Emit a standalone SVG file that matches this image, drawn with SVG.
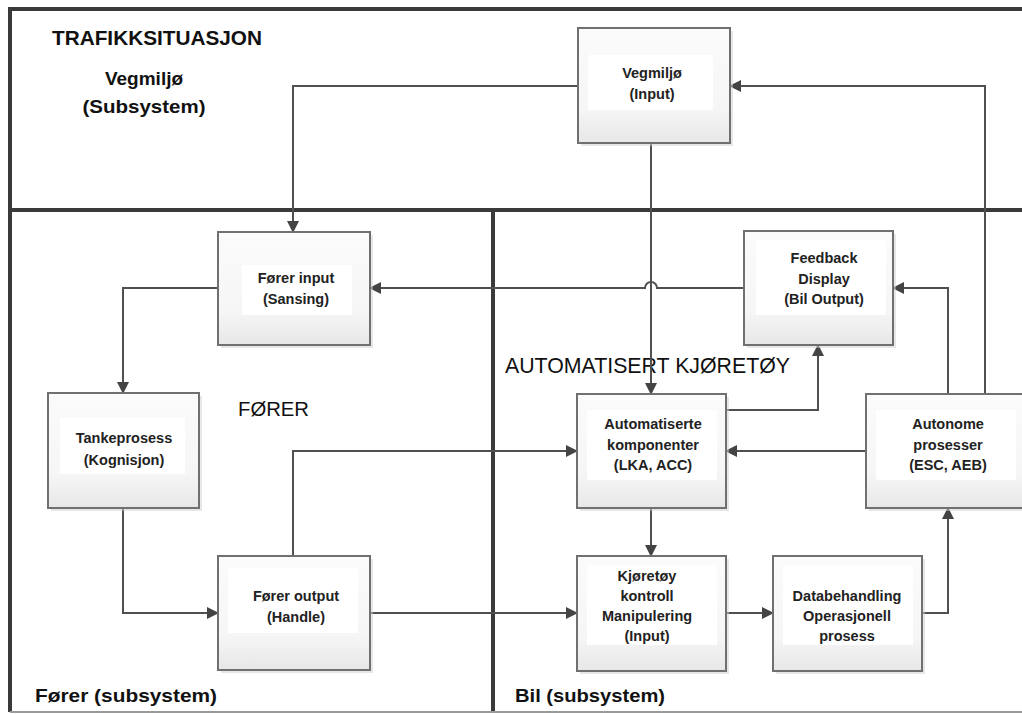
<svg xmlns="http://www.w3.org/2000/svg" width="1022" height="714" viewBox="0 0 1022 714">
<style>
.frame{stroke:#3a3a3a;stroke-width:4;fill:none}
.frame-light{stroke:#9a9a9a;stroke-width:2;fill:none}
.box{fill:url(#boxgrad);stroke:#707070;stroke-width:2}
.shadow{fill:#cfcfcf;opacity:0.5}
.inner{fill:#ffffff}
.conn{stroke:#505050;stroke-width:2;fill:none}
.arr{marker-end:url(#arrow)}
.nt{font-family:"Liberation Sans",Arial,sans-serif;font-weight:bold;font-size:14.5px;fill:#222;text-anchor:middle}
.big{font-family:"Liberation Sans",Arial,sans-serif;fill:#111}
</style>
<defs>
<linearGradient id="boxgrad" x1="0" y1="0" x2="0" y2="1">
<stop offset="0" stop-color="#fbfbfb"/>
<stop offset="0.7" stop-color="#f6f6f6"/>
<stop offset="1" stop-color="#e7e7e7"/>
</linearGradient>
<marker id="arrow" markerUnits="userSpaceOnUse" markerWidth="12" markerHeight="12" refX="11" refY="6" orient="auto">
<path d="M0,0 L12,6 L0,12 z" fill="#444"/>
</marker>
</defs>
<rect width="1022" height="714" fill="#ffffff"/>

<g id="frames">
<path class="frame" d="M10,712 V9 H1022"/>
<path class="frame" d="M10,210 H1022"/>
<path class="frame" d="M493,210 V712"/>
<path class="frame-light" d="M10,712 H1022"/>
</g>

<g id="labels">
<text class="big" x="52" y="45" font-size="21" font-weight="bold" textLength="210" lengthAdjust="spacingAndGlyphs">TRAFIKKSITUASJON</text>
<text class="big" x="144" y="85" font-size="19" font-weight="bold" text-anchor="middle">Vegmiljø</text>
<text class="big" x="144" y="113" font-size="19" font-weight="bold" text-anchor="middle" textLength="123" lengthAdjust="spacingAndGlyphs">(Subsystem)</text>
<text class="big" x="238" y="416" font-size="21" textLength="71" lengthAdjust="spacingAndGlyphs">FØRER</text>
<text class="big" x="505" y="373" font-size="22" textLength="285" lengthAdjust="spacingAndGlyphs">AUTOMATISERT KJØRETØY</text>
<text class="big" x="35" y="702" font-size="19" font-weight="bold" textLength="182" lengthAdjust="spacingAndGlyphs">Fører (subsystem)</text>
<text class="big" x="515" y="702" font-size="19" font-weight="bold" textLength="150" lengthAdjust="spacingAndGlyphs">Bil (subsystem)</text>
</g>

<g id="connectors">
<path class="conn arr" d="M578,86 H293 V232"/>
<path class="conn arr" d="M651,143 V394"/>
<path class="conn arr" d="M744,288 H657 A6,6 0 0 0 645,288 H370"/>
<path class="conn arr" d="M218,288 H123 V393"/>
<path class="conn arr" d="M123,508 V613 H218"/>
<path class="conn arr" d="M293,556 V451 H577"/>
<path class="conn arr" d="M370,613 H577"/>
<path class="conn arr" d="M651,508 V556"/>
<path class="conn arr" d="M726,613 H773"/>
<path class="conn arr" d="M922,613 H948 V508"/>
<path class="conn arr" d="M866,451 H726"/>
<path class="conn arr" d="M726,410 H818 V345"/>
<path class="conn arr" d="M948,394 V288 H893"/>
<path class="conn arr" d="M985,394 V86 H730"/>
</g>

<g id="node-vegmiljo">
<rect class="shadow" x="581" y="31" width="152" height="115"/>
<rect class="box" x="578" y="28" width="152" height="115"/>
<rect class="inner" x="588" y="55" width="125" height="55"/>
<text class="nt" x="652" y="78">Vegmiljø</text>
<text class="nt" x="652" y="99">(Input)</text>
</g>

<g id="node-forer-input">
<rect class="shadow" x="221" y="235" width="152" height="113"/>
<rect class="box" x="218" y="232" width="152" height="113"/>
<rect class="inner" x="242" y="265" width="110" height="50"/>
<text class="nt" x="296" y="283">Fører input</text>
<text class="nt" x="296" y="304">(Sansing)</text>
</g>

<g id="node-tankeprosess">
<rect class="shadow" x="51" y="396" width="151" height="115"/>
<rect class="box" x="48" y="393" width="151" height="115"/>
<rect class="inner" x="60" y="418" width="125" height="56"/>
<text class="nt" x="124" y="443">Tankeprosess</text>
<text class="nt" x="124" y="465">(Kognisjon)</text>
</g>

<g id="node-forer-output">
<rect class="shadow" x="221" y="559" width="152" height="114"/>
<rect class="box" x="218" y="556" width="152" height="114"/>
<rect class="inner" x="228" y="568" width="130" height="65"/>
<text class="nt" x="296" y="601">Fører output</text>
<text class="nt" x="296" y="622">(Handle)</text>
</g>

<g id="node-feedback">
<rect class="shadow" x="747" y="234" width="149" height="114"/>
<rect class="box" x="744" y="231" width="149" height="114"/>
<rect class="inner" x="756" y="240" width="130" height="75"/>
<text class="nt" x="824" y="263">Feedback</text>
<text class="nt" x="824" y="284">Display</text>
<text class="nt" x="824" y="304">(Bil Output)</text>
</g>

<g id="node-automatiserte">
<rect class="shadow" x="580" y="397" width="149" height="114"/>
<rect class="box" x="577" y="394" width="149" height="114"/>
<rect class="inner" x="587" y="410" width="130" height="70"/>
<text class="nt" x="653" y="429">Automatiserte</text>
<text class="nt" x="653" y="450">komponenter</text>
<text class="nt" x="653" y="470">(LKA, ACC)</text>
</g>

<g id="node-autonome">
<rect class="shadow" x="869" y="397" width="160" height="114"/>
<rect class="box" x="866" y="394" width="164" height="114"/>
<rect class="inner" x="876" y="410" width="140" height="70"/>
<text class="nt" x="948" y="429">Autonome</text>
<text class="nt" x="948" y="450">prosesser</text>
<text class="nt" x="948" y="470">(ESC, AEB)</text>
</g>

<g id="node-kjoretoy">
<rect class="shadow" x="580" y="559" width="149" height="115"/>
<rect class="box" x="577" y="556" width="149" height="115"/>
<rect class="inner" x="587" y="565" width="130" height="80"/>
<text class="nt" x="647" y="581">Kjøretøy</text>
<text class="nt" x="647" y="601">kontroll</text>
<text class="nt" x="647" y="621">Manipulering</text>
<text class="nt" x="647" y="641">(Input)</text>
</g>

<g id="node-databehandling">
<rect class="shadow" x="776" y="559" width="149" height="115"/>
<rect class="box" x="773" y="556" width="149" height="115"/>
<rect class="inner" x="783" y="565" width="130" height="80"/>
<text class="nt" x="847" y="601">Databehandling</text>
<text class="nt" x="847" y="621">Operasjonell</text>
<text class="nt" x="847" y="641">prosess</text>
</g>
</svg>
